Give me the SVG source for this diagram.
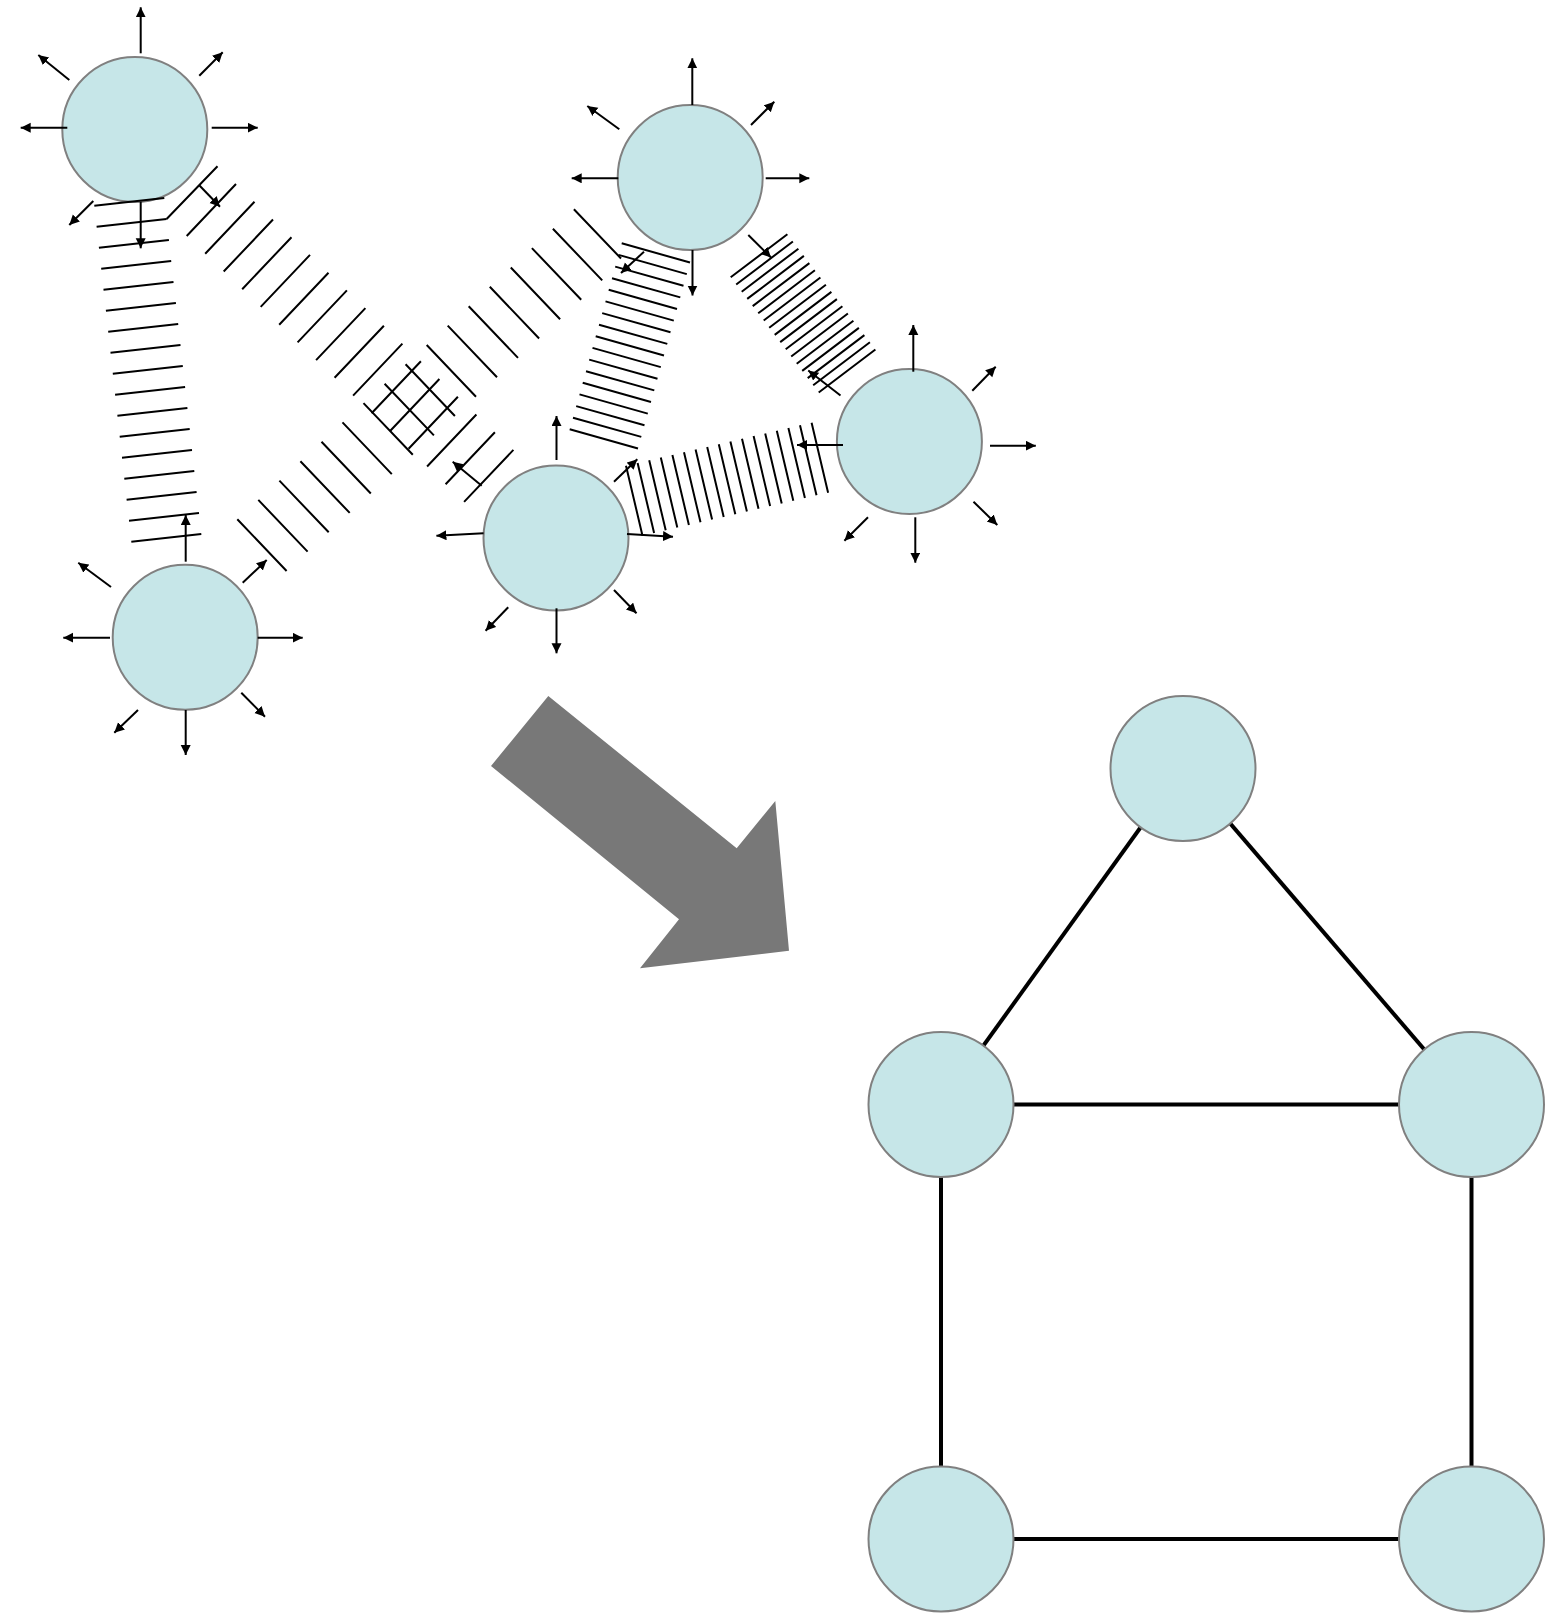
<svg xmlns="http://www.w3.org/2000/svg" width="1557" height="1614" viewBox="0 0 1557 1614">
<style>
.node{fill:#C6E6E8;stroke:#808080;stroke-width:2}
.ray{stroke:#000;stroke-width:2;fill:none;marker-end:url(#ah)}
.hatch{stroke:#000;stroke-width:2;fill:none}
.edge{stroke:#000;stroke-width:4;fill:none}
</style>
<defs>
<marker id="ah" markerUnits="userSpaceOnUse" markerWidth="11" markerHeight="11" refX="10" refY="5" orient="auto" viewBox="0 0 11 11">
<path d="M0,0 L10,5 L0,10 z" fill="#000"/>
</marker>
</defs>
<rect width="1557" height="1614" fill="#fff"/>

<g id="node-a">
<circle class="node" cx="134.8" cy="129.5" r="72.5"/>
<line class="ray" x1="140.7" y1="53.3" x2="140.7" y2="7.3"/>
<line class="ray" x1="69.3" y1="80" x2="38.3" y2="55"/>
<line class="ray" x1="199.3" y1="75.7" x2="222.7" y2="52.3"/>
<line class="ray" x1="67.3" y1="127.7" x2="20.7" y2="127.7"/>
<line class="ray" x1="211.7" y1="127.7" x2="257.7" y2="127.7"/>
<line class="ray" x1="93.3" y1="201" x2="69.3" y2="225"/>
<line class="ray" x1="140.7" y1="201.7" x2="140.7" y2="248.3"/>
<line class="ray" x1="199" y1="185" x2="220" y2="206.7"/>
</g>
<g id="node-b">
<circle class="node" cx="690.2" cy="177.5" r="72.5"/>
<line class="ray" x1="692.3" y1="105" x2="692.3" y2="58.3"/>
<line class="ray" x1="619.3" y1="129.3" x2="587.3" y2="106"/>
<line class="ray" x1="751" y1="125" x2="774.3" y2="101.7"/>
<line class="ray" x1="618.3" y1="178.3" x2="571.7" y2="178.3"/>
<line class="ray" x1="765.7" y1="178.3" x2="809.3" y2="178.3"/>
<line class="ray" x1="692.5" y1="250" x2="692.5" y2="295.5"/>
<line class="ray" x1="644" y1="251.7" x2="621" y2="273"/>
<line class="ray" x1="748.3" y1="235" x2="771" y2="257.5"/>
</g>
<g id="node-c">
<circle class="node" cx="909.4" cy="441.5" r="72.5"/>
<line class="ray" x1="913.3" y1="371.7" x2="913.3" y2="325"/>
<line class="ray" x1="972.3" y1="390.7" x2="995.7" y2="366.7"/>
<line class="ray" x1="840.5" y1="395.5" x2="808.3" y2="370.5"/>
<line class="ray" x1="843" y1="445" x2="797" y2="445"/>
<line class="ray" x1="990" y1="445.7" x2="1035.8" y2="445.7"/>
<line class="ray" x1="868" y1="517.3" x2="844.4" y2="540.7"/>
<line class="ray" x1="915.3" y1="517.3" x2="915.3" y2="562.7"/>
<line class="ray" x1="973.5" y1="501.7" x2="997.3" y2="525"/>
</g>
<g id="node-d">
<circle class="node" cx="556" cy="538" r="72.5"/>
<line class="ray" x1="556.5" y1="460" x2="556.5" y2="416"/>
<line class="ray" x1="483.6" y1="533.3" x2="436.4" y2="535.7"/>
<line class="ray" x1="627" y1="534" x2="673" y2="536.7"/>
<line class="ray" x1="614" y1="481.7" x2="637.3" y2="459.3"/>
<line class="ray" x1="481.7" y1="485.7" x2="452.7" y2="461.7"/>
<line class="ray" x1="508.2" y1="607.3" x2="485.6" y2="630.7"/>
<line class="ray" x1="556.5" y1="608.3" x2="556.5" y2="653.3"/>
<line class="ray" x1="614" y1="590" x2="636.5" y2="613.3"/>
</g>
<g id="node-e">
<circle class="node" cx="185.2" cy="637.2" r="72.5"/>
<line class="ray" x1="185.7" y1="561.7" x2="185.7" y2="515"/>
<line class="ray" x1="111" y1="587" x2="78.3" y2="562.7"/>
<line class="ray" x1="242.7" y1="582.7" x2="266.7" y2="560"/>
<line class="ray" x1="110" y1="637.7" x2="63.3" y2="637.7"/>
<line class="ray" x1="257.7" y1="637.7" x2="302.7" y2="637.7"/>
<line class="ray" x1="138" y1="710" x2="114.3" y2="732.7"/>
<line class="ray" x1="185.7" y1="710" x2="185.7" y2="755"/>
<line class="ray" x1="241.3" y1="692.7" x2="265" y2="716.7"/>
</g>

<g id="connectors">
<path id="band-a-e" class="hatch" d="M94.3,205.7L164.3,198 M96.6,226.7L166.6,219 M98.9,247.7L168.9,240 M101.2,268.7L171.2,261 M103.5,289.7L173.5,282 M105.9,310.7L175.9,303 M108.2,331.7L178.2,324 M110.5,352.7L180.5,345 M112.8,373.7L182.8,366 M115.1,394.7L185.1,387 M117.4,415.7L187.4,408 M119.7,436.7L189.7,429 M122,457.7L192,450 M124.3,478.7L194.3,471 M126.6,499.7L196.6,492 M129,520.7L199,513 M131.3,541.7L201.3,534"/>
<path id="band-a-d" class="hatch" d="M166.6,219L217.5,166.3 M186.7,236L236,184 M205.2,253.7L254.5,201.7 M223.7,271.5L273,219.5 M242.2,289.2L291.5,237.2 M260.7,306.9L310,254.9 M279.2,324.7L328.5,272.7 M297.6,342.4L346.9,290.4 M316.1,360.1L365.4,308.1 M334.6,377.8L383.9,325.8 M353.1,395.6L402.4,343.6 M371.6,413.3L420.9,361.3 M390.1,431L439.4,379 M408.6,448.8L457.9,396.8 M427.1,466.5L476.4,414.5 M445.6,484.2L494.9,432.2 M464.1,501.9L513.4,449.9"/>
<path id="band-e-b" class="hatch" d="M237.3,519.3L286.6,571 M258.3,499.9L307.6,551.6 M279.4,480.6L328.7,532.3 M300.4,461.2L349.7,512.9 M321.5,441.8L370.8,493.5 M342.5,422.4L391.8,474.1 M363.5,403.1L412.8,454.8 M384.6,383.7L433.9,435.4 M405.6,364.3L454.9,416 M426.7,345L476,396.7 M447.7,325.6L497,377.3 M468.7,306.2L518,357.9 M489.8,286.8L539.1,338.5 M510.8,267.5L560.1,319.2 M531.9,248.1L581.2,299.8 M552.9,228.7L602.2,280.4 M573.9,209.3L621,258.5"/>
<path id="band-b-d" class="hatch" d="M621.7,243.3L690,262.5 M618.5,254.9L686.8,274.1 M615.2,266.6L683.5,285.8 M612,278.2L680.3,297.4 M608.7,289.8L677,309 M605.5,301.4L673.8,320.6 M602.2,313.1L670.5,332.3 M599,324.7L667.3,343.9 M595.7,336.3L664,355.5 M592.5,347.9L660.8,367.1 M589.2,359.6L657.5,378.8 M586,371.2L654.3,390.4 M582.7,382.8L651,402 M579.5,394.4L647.8,413.6 M576.2,406.1L644.5,425.3 M573,417.7L641.3,436.9 M569.7,429.3L638,448.5"/>
<path id="band-b-c" class="hatch" d="M730.7,277.3L787.4,234.3 M736.2,284.5L792.9,241.5 M741.7,291.7L798.4,248.7 M747.2,298.9L803.9,255.9 M752.7,306.1L809.4,263.1 M758.2,313.3L814.9,270.3 M763.7,320.5L820.4,277.5 M769.2,327.7L825.9,284.7 M774.7,334.9L831.4,291.9 M780.2,342.1L836.9,299.1 M785.7,349.3L842.4,306.3 M791.2,356.5L847.9,313.5 M796.7,363.7L853.4,320.7 M802.2,370.9L858.9,327.9 M807.7,378.1L864.4,335.1 M813.2,385.3L869.9,342.3 M818.7,392.5L875.4,349.5"/>
<path id="band-d-c" class="hatch" d="M626,465.7L642.5,535.7 M637.6,463L654.1,533 M649.2,460.3L665.7,530.3 M660.8,457.6L677.3,527.6 M672.4,454.9L688.9,524.9 M684,452.3L700.5,522.3 M695.6,449.6L712.1,519.6 M707.2,446.9L723.7,516.9 M718.8,444.2L735.3,514.2 M730.4,441.5L746.9,511.5 M742,438.8L758.5,508.8 M753.6,436.1L770.1,506.1 M765.2,433.4L781.7,503.4 M776.8,430.7L793.3,500.7 M788.4,428L804.9,498 M800,425.3L816.5,495.3 M811.6,422.7L828.1,492.7"/>
<line class="edge" x1="1183" y1="768.5" x2="941" y2="1104.5"/>
<line class="edge" x1="1183" y1="768.5" x2="1471.5" y2="1104.5"/>
<line class="edge" x1="941" y1="1104.5" x2="1471.5" y2="1104.5"/>
<line class="edge" x1="941" y1="1104.5" x2="941" y2="1539"/>
<line class="edge" x1="1471.5" y1="1104.5" x2="1471.5" y2="1539"/>
<line class="edge" x1="941" y1="1539" x2="1471.5" y2="1539"/>
</g>

<g id="big-arrow">
<polygon points="548.3,696 736.7,848.3 775.3,801 789,950.7 640,968.3 679,919.3 491,766" fill="#787878"/>
</g>

<g id="node-f"><circle class="node" cx="1183" cy="768.5" r="72.5"/></g>
<g id="node-g"><circle class="node" cx="941" cy="1104.5" r="72.5"/></g>
<g id="node-h"><circle class="node" cx="1471.5" cy="1104.5" r="72.5"/></g>
<g id="node-i"><circle class="node" cx="941" cy="1539" r="72.5"/></g>
<g id="node-j"><circle class="node" cx="1471.5" cy="1539" r="72.5"/></g>
</svg>
